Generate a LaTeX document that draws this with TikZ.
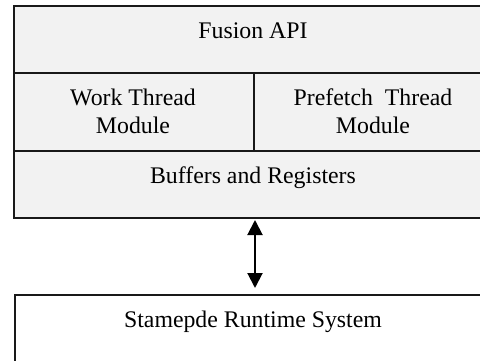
\documentclass[tikz,border=0pt]{standalone}
\usepackage{fontspec}
\setmainfont{Liberation Serif}
\usetikzlibrary{arrows.meta}
\definecolor{panel}{HTML}{F2F2F2}
\tikzset{
  cell/.style={draw=black!90, line width=2pt, fill=panel, rectangle,
    inner sep=0pt, anchor=north west},
  plain/.style={draw=black!90, line width=2pt, fill=white, rectangle,
    inner sep=0pt, anchor=north west},
  lbl/.style={inner sep=0pt, align=center, anchor=base,
    font=\fontsize{23.8}{28}\selectfont},
  link/.style={line width=2pt, {Triangle[width=15pt,length=15pt]}-{Triangle[width=15pt,length=15pt]}}
}
\begin{document}
\begin{tikzpicture}[x=1pt,y=-1pt]
  \useasboundingbox (0,0) rectangle (480,360);
  \clip (0,0) rectangle (480,360);
  % layered module stack
  \node[cell, minimum width=480pt, minimum height=67pt] (api) at (13,5) {};
  \node[cell, minimum width=240pt, minimum height=78pt] (work) at (13,72) {};
  \node[cell, minimum width=240pt, minimum height=78pt] (prefetch) at (253,72) {};
  \node[cell, minimum width=480pt, minimum height=67pt] (buffers) at (13,150) {};
  % runtime layer
  \node[plain, minimum width=480pt, minimum height=100pt] (runtime) at (14,294) {};
  % labels (base of a two-line label is its last line)
  \node[lbl] at (253,38) {Fusion API};
  \node[lbl] at (133,133) {Work Thread\\Module};
  \node[lbl] at (373,133) {Prefetch\ \ Thread\\Module};
  \node[lbl] at (253,183) {Buffers and Registers};
  \node[lbl] at (253,327) {Stamepde Runtime System};
  % link between stack and runtime
  \draw[link] ([yshift=-1pt]buffers.south -| work.south east) -- ([yshift=6pt]runtime.north -| work.south east);
\end{tikzpicture}
\end{document}
